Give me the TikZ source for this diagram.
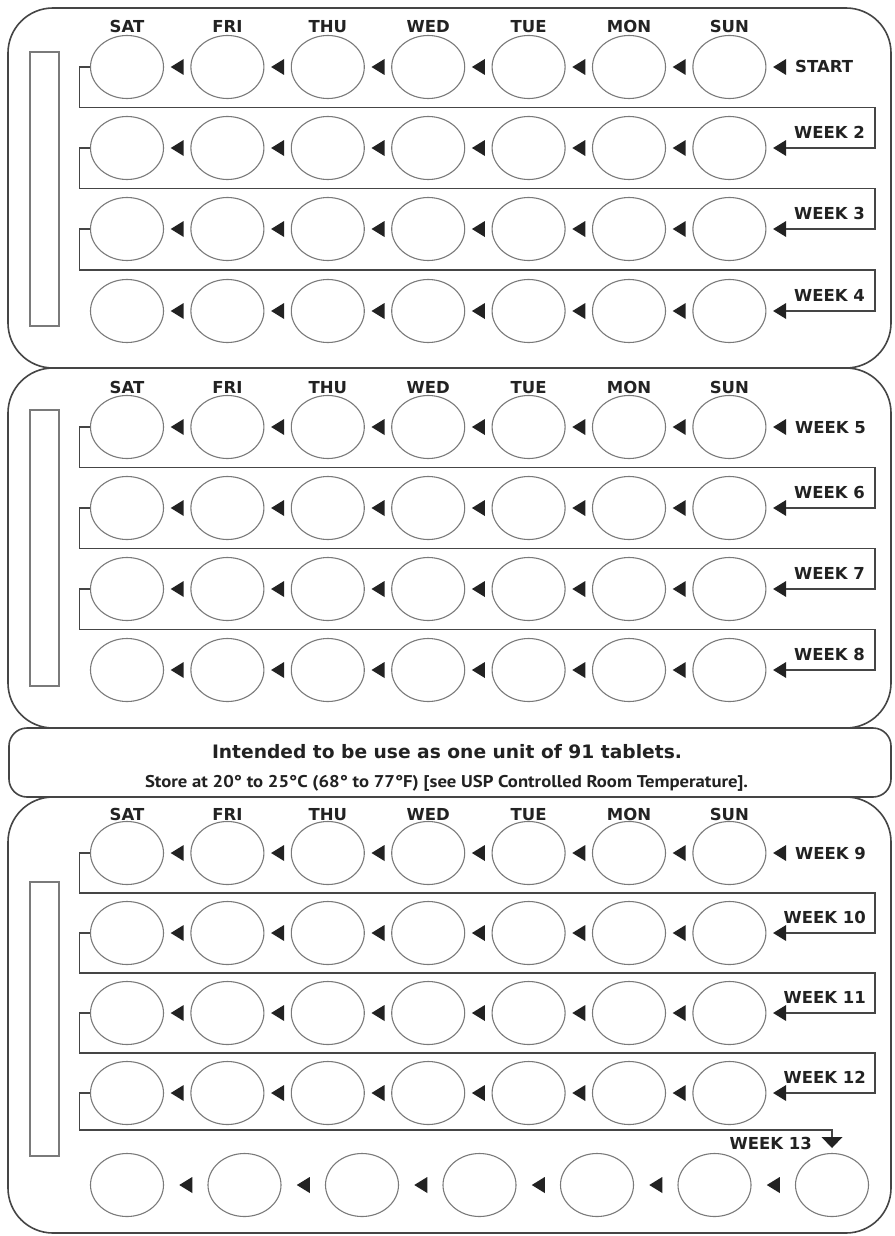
\documentclass[tikz,border=0pt]{standalone}
\usepackage{fontspec}
\usepackage{graphicx}
\setmainfont{PT Sans}
\newfontfamily\lblfont{DejaVu Sans}
\usetikzlibrary{shapes.geometric}
\definecolor{ink}{HTML}{222222}
\definecolor{edge}{HTML}{454545}
\definecolor{pillc}{HTML}{7A7A7A}
\tikzset{
 panel/.style={draw=edge, line width=1.6pt, rounded corners=45pt},
 band/.style={draw=edge, line width=1.6pt, rounded corners=18pt},
 pill/.style={ellipse, draw=pillc, line width=1.1pt, minimum width=73pt, minimum height=63pt, inner sep=0pt},
 tri/.style={fill=ink},
 conn/.style={draw=edge, line width=1.6pt},
 slot/.style={draw=pillc, line width=1.2pt},
 day/.style={font=\lblfont\bfseries\fontsize{16.5}{16.5}\selectfont, text=ink, inner sep=0pt, anchor=base},
 wk/.style={font=\lblfont\bfseries\fontsize{16.5}{16.5}\selectfont, text=ink, inner sep=0pt},
}
% #1 panel id, #2..#5 row y, #6 day label y
\newcommand\blisterrows[6]{%
 \foreach \d [count=\i from 0] in {SAT,FRI,THU,WED,TUE,MON,SUN}
   \node[day] (d#1-\i) at ({127+100.4*\i},{#6+6}) {\d};
 \foreach \r [count=\j] in {#2,#3,#4,#5} {
   \foreach \i in {0,...,6} {
     \node[pill] (p#1-\j-\i) at ({127+100.4*\i},\r) {};
     \fill[tri] ({170.7+100.4*\i},\r) -- ++(13,-8) -- ++(0,16) -- cycle;
   }
   \coordinate (in#1-\j) at (786,\r);
 }
 \draw[conn] (p#1-1-0.west) -- ++(-10.5,0) |- (875,{(#2+#3)/2}) |- (in#1-2);
 \draw[conn] (p#1-2-0.west) -- ++(-10.5,0) |- (875,{(#3+#4)/2}) |- (in#1-3);
 \draw[conn] (p#1-3-0.west) -- ++(-10.5,0) |- (875,{(#4+#5)/2}) |- (in#1-4);
}
\begin{document}
\begin{tikzpicture}[x=1pt,y=-1pt]
\useasboundingbox (0,0) rectangle (894,1236);
\fill[white] (0,0) rectangle (894,1236);

% panels
\draw[panel] (8,8) rectangle (891,368);
\draw[panel] (8,368) rectangle (891,728);
\draw[band] (9,728) rectangle (891,797);
\draw[panel] (8,797) rectangle (891,1233);

% label slots
\draw[slot] (30,52) rectangle (59,326);
\draw[slot] (30,410) rectangle (59,686);
\draw[slot] (30,882) rectangle (59,1156);

\blisterrows{1}{67}{148}{229}{311}{26.5}
\blisterrows{2}{427}{508}{589}{670}{387.5}
\blisterrows{3}{853}{933}{1013}{1093}{814}

% week labels
\node[wk, anchor=base west] (start) at (795,73) {START};
\node[wk, anchor=base east] (w2) at (865,138.5) {WEEK 2};
\node[wk, anchor=base east] (w3) at (865,219.5) {WEEK 3};
\node[wk, anchor=base east] (w4) at (865,301) {WEEK 4};
\node[wk, anchor=base west] (w5) at (795,433) {WEEK 5};
\node[wk, anchor=base east] (w6) at (865,498.5) {WEEK 6};
\node[wk, anchor=base east] (w7) at (865,579.5) {WEEK 7};
\node[wk, anchor=base east] (w8) at (865,660.5) {WEEK 8};
\node[wk, anchor=base west] (w9) at (795,859) {WEEK 9};
\node[wk, anchor=base east] (w10) at (866,923.5) {WEEK 10};
\node[wk, anchor=base east] (w11) at (866,1003.5) {WEEK 11};
\node[wk, anchor=base east] (w12) at (866,1083.5) {WEEK 12};
\node[wk, anchor=base east] (w13) at (812,1149) {WEEK 13};

% last row (week 13)
\foreach \i in {0,...,6}
  \node[pill] (b-\i) at ({127+117.5*\i},1185) {};
\foreach \i in {0,...,5}
  \fill[tri] ({179.25+117.5*\i},1185) -- ++(13,-8) -- ++(0,16) -- cycle;
\coordinate (in13) at (832,1137);
\draw[conn] (p3-4-0.west) -- ++(-10.5,0) |- (832,1130) -- (in13);
\fill[tri] (821.5,1137) -- (842.5,1137) -- (832,1148) -- cycle;

% band text
\node[anchor=base, inner sep=0pt, text=ink] (t1) at (447,758)
  {\resizebox{470pt}{\height}{\lblfont\bfseries\fontsize{18.5}{18.5}\selectfont Intended to be use as one unit of 91 tablets.}};
\node[anchor=base, inner sep=0pt, text=ink] (t2) at (446.5,787)
  {\resizebox{603pt}{\height}{\bfseries\fontsize{17}{17}\selectfont Store at 20° to 25°C (68° to 77°F) [see USP Controlled Room Temperature].}};
\end{tikzpicture}
\end{document}
